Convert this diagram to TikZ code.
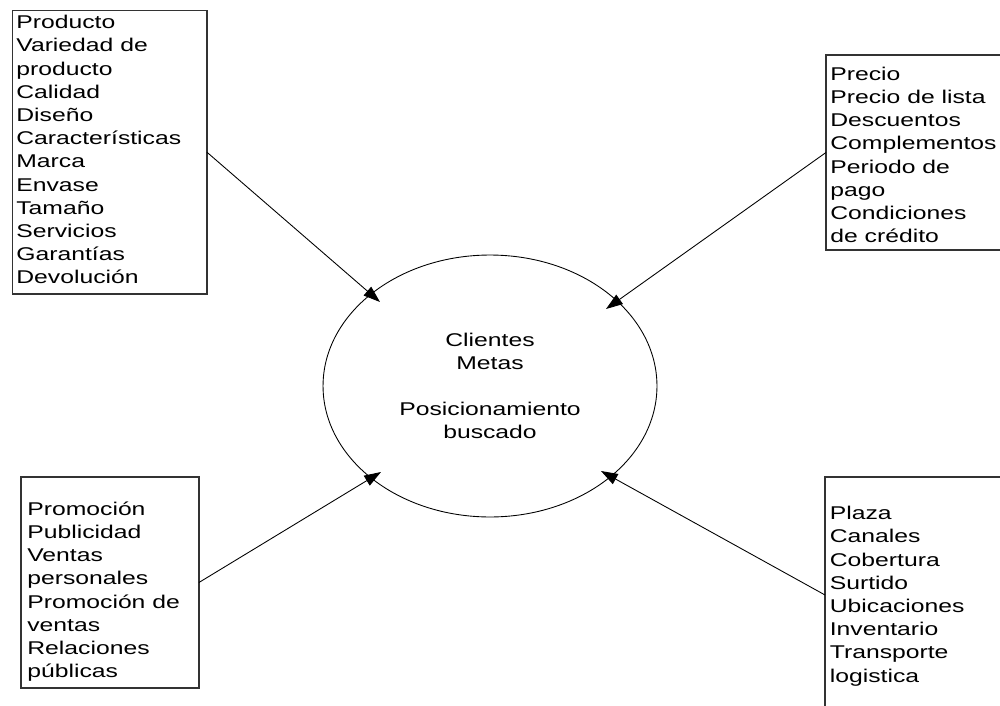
\documentclass[tikz,border=0pt]{standalone}
\usepackage{fontspec}
\setmainfont{Liberation Sans}[FakeStretch=1.34]
\usetikzlibrary{arrows.meta,shapes.geometric}

\begin{document}
\begin{tikzpicture}[x=0.02cm, y=-0.02cm, font=\fontsize{10.5}{13.2}\selectfont,
  >={Triangle[length=9.5pt,width=6.5pt]},
  box/.style={draw=black!80, line width=0.75pt, anchor=north west, inner sep=0pt, outer sep=0pt},
  txt/.style={anchor=north west, align=left, inner sep=0pt},
  arr/.style={->, line width=0.5pt}]
\clip (0,0) rectangle (1000,706);
% the four boxes
\node[box, minimum width=3.89cm, minimum height=5.67cm] (prod)  at (12.5,10.5) {};
\node[box, minimum width=3.7cm,  minimum height=3.9cm]  (prec)  at (826,55)    {};
\node[box, minimum width=3.56cm, minimum height=4.22cm] (promo) at (21,477)    {};
\node[box, minimum width=3.7cm,  minimum height=4.72cm] (plaza) at (825,477)   {};
\node[txt] (prodtxt) at (16,15) {Producto\\Variedad de\\producto\\Calidad\\Diseño\\Características\\Marca\\Envase\\Tamaño\\Servicios\\Garantías\\Devolución};
\node[txt] (prectxt) at (830,66.7) {Precio\\Precio de lista\\Descuentos\\Complementos\\Periodo de\\pago\\Condiciones\\de crédito};
\node[txt] (promotxt) at (27,501.3) {Promoción\\Publicidad\\Ventas\\personales\\Promoción de\\ventas\\Relaciones\\públicas};
\node[txt] (plazatxt) at (829.5,506) {Plaza\\Canales\\Cobertura\\Surtido\\Ubicaciones\\Inventario\\Transporte\\logistica};
% centre
\node[draw, ellipse, line width=0.5pt, inner sep=0pt, outer sep=0pt, align=center,
  minimum width=6.68cm, minimum height=5.24cm] (meta) at (490,386)
  {Clientes\\Metas\\ \\Posicionamiento\\buscado};
\coordinate (tipprod)  at (380,302);
\coordinate (tipprec)  at (606,309);
\coordinate (tippromo) at (381,472);
\coordinate (tipplaza) at (601,471);
\draw[arr] (prod.east)  -- (tipprod);
\draw[arr] (prec.west)  -- (tipprec);
\draw[arr] (promo.east) -- (tippromo);
\draw[arr] (plaza.west) -- (tipplaza);
\end{tikzpicture}
\end{document}
